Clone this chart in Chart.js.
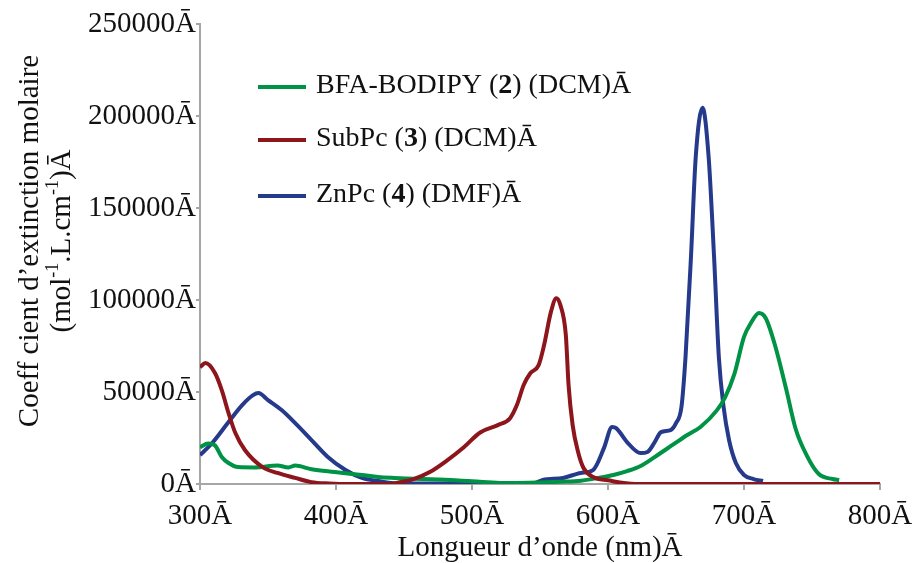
<!DOCTYPE html>
<html>
<head>
<meta charset="utf-8">
<script src="https://cdn.jsdelivr.net/npm/chart.js@4.4.1/dist/chart.umd.min.js"></script>
<style>
  body { margin: 0; background: #fff; }
  #wrap { width: 923px; height: 563px; }
</style>
</head>
<body>
<div id="wrap"><canvas id="myChart" width="923" height="563"></canvas></div>
<script>
// absorption spectra, values
var bodipyNm = [300, 306, 311, 316, 321, 328, 340, 357, 365, 370, 382, 399, 419, 431, 443, 484, 500, 530, 550, 565, 580, 592, 604, 614, 624, 634, 648, 658, 668, 680, 686, 693, 700, 705, 711, 716, 723, 731, 738, 746, 755, 765, 770];
var bodipyEps = [20000, 22000, 21000, 14700, 11400, 9200, 9000, 10000, 9000, 10000, 8000, 6500, 4900, 3800, 3300, 2200, 1500, 500, 800, 1200, 1800, 3200, 4900, 7000, 9800, 14500, 21500, 26500, 31000, 40000, 47000, 60000, 80000, 87400, 93000, 90100, 74900, 51600, 29900, 15700, 5400, 2700, 2200];

var subpcNm = [300, 304, 311, 316, 321, 326, 333, 346, 357, 370, 382, 395, 410, 440, 447, 457, 469, 482, 494, 506, 519, 528, 533, 538, 543, 549, 553, 558, 562, 565, 569, 571, 574, 578, 582, 589, 600, 620, 800];
var subpcEps = [63500, 65700, 60300, 51000, 38500, 27700, 18500, 9200, 6000, 3300, 1000, 300, 0, 0, 1000, 2700, 6500, 13000, 20000, 28000, 32000, 35800, 42900, 53800, 60300, 64600, 75500, 93400, 101000, 97200, 80900, 53800, 32000, 17400, 8700, 3800, 2000, 0, 0];

var znpcNm = [300, 309, 321, 331, 339, 343, 350, 360, 370, 382, 394, 407, 419, 431, 445, 545, 552, 567, 580, 589, 597, 603, 606, 614, 624, 629, 634, 639, 646, 650, 654, 657, 661, 664.5, 669.5, 674, 678, 681.5, 685, 689, 694, 700, 707, 714];
var znpcEps = [15700, 22300, 33700, 42900, 48300, 49400, 45600, 40200, 33100, 23900, 14700, 7600, 3300, 1600, 300, 300, 2200, 3300, 6000, 7600, 19500, 31000, 30400, 22800, 16800, 17400, 22300, 28200, 29300, 33100, 41800, 69000, 123300, 177600, 204500, 177600, 123300, 69000, 41800, 23900, 11400, 4900, 2700, 1600];

var xTicks = [300, 400, 500, 600, 700, 800];
var yTicks = [0, 50000, 100000, 150000, 200000, 250000];

// legend entries: [text, bold?] pieces
var legendItems = [
  { color: "#009245", parts: [["BFA-BODIPY (", false], ["2", true], [") (DCM)Ā", false]] },
  { color: "#8c161c", parts: [["SubPc (", false], ["3", true], [") (DCM)Ā", false]] },
  { color: "#263a8c", parts: [["ZnPc (", false], ["4", true], [") (DMF)Ā", false]] },
];

// y axis title, second line has superscripts: [text, sup?]
var yTitle1 = "Coeff cient d’extinction molaire";
var yTitle2 = [["(mol", false], ["-1", true], [".L.cm", false], ["-1", true], [")Ā", false]];

function pts(xs, ys) {
  return xs.map(function (x, i) { return { x: x, y: ys[i] }; });
}

var serif = "'Liberation Serif', 'Times New Roman', serif";
var axisGray = "#a6a6a6";

var textPlugin = {
  id: "mixedText",
  afterDraw: function (chart) {
    var ctx = chart.ctx;
    var rows = [86, 139, 195];
    ctx.save();
    legendItems.forEach(function (item, i) {
      var y = rows[i];
      ctx.strokeStyle = item.color;
      ctx.lineWidth = 4;
      ctx.beginPath();
      ctx.moveTo(258, y + 1);
      ctx.lineTo(306, y + 1);
      ctx.stroke();
      var x = 316;
      ctx.fillStyle = "#111";
      ctx.textBaseline = "middle";
      item.parts.forEach(function (p) {
        ctx.font = (p[1] ? "bold " : "") + "28px " + serif;
        ctx.fillText(p[0], x, y);
        x += ctx.measureText(p[0]).width;
      });
    });
    ctx.restore();

    // rotated y title
    var cy = 241;
    ctx.save();
    ctx.translate(30, cy);
    ctx.rotate(-Math.PI / 2);
    ctx.fillStyle = "#111";
    ctx.textBaseline = "middle";
    ctx.textAlign = "center";
    ctx.font = "29px " + serif;
    ctx.fillText(yTitle1, 0, 0);
    ctx.restore();

    ctx.save();
    ctx.translate(62, cy);
    ctx.rotate(-Math.PI / 2);
    ctx.fillStyle = "#111";
    ctx.textBaseline = "middle";
    var total = 0;
    yTitle2.forEach(function (p) {
      ctx.font = (p[1] ? "18px " : "29px ") + serif;
      total += ctx.measureText(p[0]).width;
    });
    var x = -total / 2;
    yTitle2.forEach(function (p) {
      ctx.font = (p[1] ? "18px " : "29px ") + serif;
      ctx.fillText(p[0], x, p[1] ? -9 : 0);
      x += ctx.measureText(p[0]).width;
    });
    ctx.restore();
  },
};

function lineSet(label, data, color) {
  return {
    label: label,
    data: data,
    borderColor: color,
    backgroundColor: color,
    borderWidth: 4,
    pointRadius: 0,
    cubicInterpolationMode: "monotone",
    fill: false,
  };
}

var ctx = document.getElementById("myChart").getContext("2d");
var myChart = new Chart(ctx, {
  type: "line",
  data: {
    datasets: [
      lineSet("SubPc (3) (DCM)", pts(subpcNm, subpcEps), legendItems[1].color),
      lineSet("BFA-BODIPY (2) (DCM)", pts(bodipyNm, bodipyEps), legendItems[0].color),
      lineSet("ZnPc (4) (DMF)", pts(znpcNm, znpcEps), legendItems[2].color),
    ],
  },
  options: {
    responsive: false,
    animation: false,
    layout: { padding: { top: 24, right: 43, left: 0, bottom: 0 } },
    plugins: {
      legend: { display: false },
      tooltip: { enabled: false },
    },
    scales: {
      x: {
        type: "linear",
        min: 300,
        max: 800,
        afterBuildTicks: function (axis) {
          axis.ticks = xTicks.map(function (v) { return { value: v }; });
        },
        afterFit: function (axis) { axis.height = 79; },
        ticks: {
          color: "#111",
          font: { family: serif, size: 29 },
          padding: 9,
          maxRotation: 0,
          callback: function (v) { return v + "Ā"; },
        },
        grid: { display: true, drawOnChartArea: false, drawTicks: true, tickLength: 6, color: axisGray, lineWidth: 2 },
        border: { display: true, color: axisGray, width: 2 },
        title: {
          display: true,
          text: "Longueur d’onde (nm)Ā",
          color: "#111",
          font: { family: serif, size: 29, lineHeight: 1.0 },
          padding: { top: 0, bottom: 0 },
        },
      },
      y: {
        min: 0,
        max: 250000,
        afterBuildTicks: function (axis) {
          axis.ticks = yTicks.map(function (v) { return { value: v }; });
        },
        afterFit: function (axis) { axis.width = 200; },
        ticks: {
          color: "#111",
          font: { family: serif, size: 29 },
          padding: 0,
          callback: function (v) { return v + "Ā"; },
        },
        grid: { display: true, drawOnChartArea: false, drawTicks: true, tickLength: 4, color: axisGray, lineWidth: 2 },
        border: { display: true, color: axisGray, width: 2 },
      },
    },
  },
  plugins: [textPlugin],
});
</script>
</body>
</html>
